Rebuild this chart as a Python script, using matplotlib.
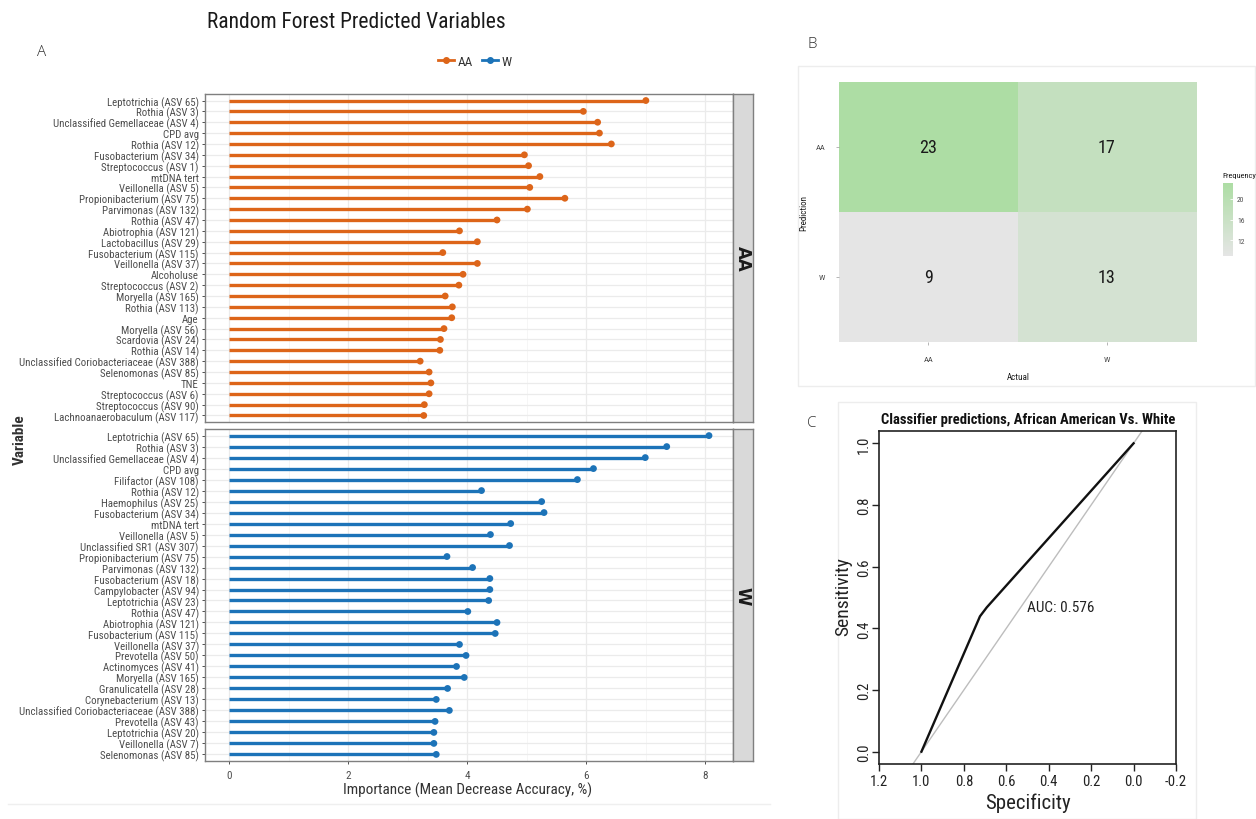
import matplotlib
matplotlib.use("Agg")
import matplotlib.pyplot as plt
from matplotlib import font_manager
from matplotlib.colors import LinearSegmentedColormap, Normalize
from matplotlib.cm import ScalarMappable
from matplotlib.lines import Line2D
import numpy as np

# ---------------------------------------------------------------- data
aa_labels = [
    "Leptotrichia (ASV 65)", "Rothia (ASV 3)", "Unclassified Gemellaceae (ASV 4)",
    "CPD avg", "Rothia (ASV 12)", "Fusobacterium (ASV 34)", "Streptococcus (ASV 1)",
    "mtDNA tert", "Veillonella (ASV 5)", "Propionibacterium (ASV 75)",
    "Parvimonas (ASV 132)", "Rothia (ASV 47)", "Abiotrophia (ASV 121)",
    "Lactobacillus (ASV 29)", "Fusobacterium (ASV 115)", "Veillonella (ASV 37)",
    "Alcoholuse", "Streptococcus (ASV 2)", "Moryella (ASV 165)", "Rothia (ASV 113)",
    "Age", "Moryella (ASV 56)", "Scardovia (ASV 24)", "Rothia (ASV 14)",
    "Unclassified Coriobacteriaceae (ASV 388)", "Selenomonas (ASV 85)", "TNE",
    "Streptococcus (ASV 6)", "Streptococcus (ASV 90)", "Lachnoanaerobaculum (ASV 117)",
]
aa_importance = [
    7.00, 5.95, 6.19, 6.22, 6.42, 4.96, 5.03, 5.22, 5.05, 5.64,
    5.01, 4.50, 3.87, 4.17, 3.59, 4.17, 3.93, 3.86, 3.63, 3.75,
    3.74, 3.61, 3.55, 3.54, 3.21, 3.36, 3.39, 3.36, 3.28, 3.27,
]

w_labels = [
    "Leptotrichia (ASV 65)", "Rothia (ASV 3)", "Unclassified Gemellaceae (ASV 4)",
    "CPD avg", "Filifactor (ASV 108)", "Rothia (ASV 12)", "Haemophilus (ASV 25)",
    "Fusobacterium (ASV 34)", "mtDNA tert", "Veillonella (ASV 5)",
    "Unclassified SR1 (ASV 307)", "Propionibacterium (ASV 75)", "Parvimonas (ASV 132)",
    "Fusobacterium (ASV 18)", "Campylobacter (ASV 94)", "Leptotrichia (ASV 23)",
    "Rothia (ASV 47)", "Abiotrophia (ASV 121)", "Fusobacterium (ASV 115)",
    "Veillonella (ASV 37)", "Prevotella (ASV 50)", "Actinomyces (ASV 41)",
    "Moryella (ASV 165)", "Granulicatella (ASV 28)", "Corynebacterium (ASV 13)",
    "Unclassified Coriobacteriaceae (ASV 388)", "Prevotella (ASV 43)",
    "Leptotrichia (ASV 20)", "Veillonella (ASV 7)", "Selenomonas (ASV 85)",
]
w_importance = [
    8.06, 7.35, 6.99, 6.12, 5.85, 4.24, 5.25, 5.29, 4.73, 4.39,
    4.71, 3.66, 4.09, 4.38, 4.38, 4.36, 4.01, 4.50, 4.47, 3.87,
    3.98, 3.82, 3.95, 3.67, 3.48, 3.70, 3.46, 3.44, 3.44, 3.48,
]

groups = ["AA", "W"]
group_colors = ["#DD6519", "#1C73B8"]

# confusion matrix: rows = prediction, columns = actual
actual_classes = ["AA", "W"]
predicted_classes = ["AA", "W"]
confusion_counts = [[23, 17],
                    [9, 13]]

# ROC curve
roc_specificity = [1.0, 0.724, 0.692, 0.0]
roc_sensitivity = [0.0, 0.439, 0.468, 1.0]
auc_value = 0.576

# ---------------------------------------------------------------- setup
W, H = 1256, 820
plt.rcParams["axes.unicode_minus"] = False


def pick_font(candidates):
    names = {f.name for f in font_manager.fontManager.ttflist}
    for c in candidates:
        if c in names:
            return c
    return "DejaVu Sans"


NARROW = pick_font(["Liberation Sans Narrow", "Roboto Condensed", "Liberation Sans"])
LIGHT = pick_font(["Open Sans", "Lato", "DejaVu Sans"])
plt.rcParams["font.family"] = [NARROW, "DejaVu Sans"]

fig = plt.figure(figsize=(W / 100, H / 100), dpi=100)
fig.patch.set_facecolor("white")


def px_axes(left, top, right, bottom, **kw):
    return fig.add_axes([left / W, 1 - bottom / H, (right - left) / W, (bottom - top) / H], **kw)


def ftext(x, y, s, **kw):
    return fig.text(x / W, 1 - y / H, s, **kw)


def frame(left, top, right, bottom, color="#EDEDED"):
    fig.add_artist(plt.Rectangle((left / W, 1 - bottom / H), (right - left) / W,
                                 (bottom - top) / H, transform=fig.transFigure,
                                 fill=False, edgecolor=color, lw=1.0, zorder=0))


# ---------------------------------------------------------------- panel A
ftext(356, 22, "Random Forest Predicted Variables", fontsize=15.5, ha="center",
      va="center", color="#1A1A1A")
ftext(42, 52, "A", fontsize=11, ha="center", va="center", family=LIGHT,
      color="#333333", fontweight="light")

XMAX = max(max(aa_importance), max(w_importance))
XLIM = (-0.05 * XMAX, 1.05 * XMAX)


def lollipop(ax, labels, values, color, show_x):
    n = len(labels)
    y = np.arange(n, 0, -1)
    ax.set_facecolor("white")
    ax.hlines(y, 0, values, color=color, lw=2.4, zorder=2)
    ax.scatter(values, y, s=24, color=color, zorder=3, edgecolor="none")
    ax.set_xlim(*XLIM)
    ax.set_ylim(0.4, n + 0.6)
    ax.set_yticks(y)
    ax.set_yticklabels(labels, fontsize=7.8, color="#4D4D4D")
    ax.set_xticks([0, 2, 4, 6, 8])
    ax.set_xticks([1, 3, 5, 7], minor=True)
    ax.grid(which="major", color="#EBEBEB", lw=0.9, zorder=0)
    ax.grid(which="minor", axis="x", color="#F3F3F3", lw=0.5, zorder=0)
    ax.set_axisbelow(True)
    ax.tick_params(axis="y", length=2.5, width=0.6, color="#333333", pad=2)
    ax.tick_params(axis="x", which="both", length=2.5 if show_x else 0,
                   width=0.6, color="#333333", labelsize=8, labelcolor="#4D4D4D",
                   labelbottom=show_x, pad=4)
    ax.tick_params(axis="x", which="minor", length=0)
    for s in ax.spines.values():
        s.set_color("#7F7F7F")
        s.set_linewidth(1.0)


def strip(top, bottom, label):
    sax = px_axes(733, top, 753, bottom)
    sax.set_facecolor("#D9D9D9")
    sax.set_xticks([])
    sax.set_yticks([])
    for s in sax.spines.values():
        s.set_color("#7F7F7F")
        s.set_linewidth(1.0)
    sax.text(0.5, 0.5, label, rotation=-90, ha="center", va="center",
             fontsize=12, fontweight="bold", color="#1A1A1A", family="DejaVu Sans",
             transform=sax.transAxes)


ax_aa = px_axes(205, 95, 733, 423)
lollipop(ax_aa, aa_labels, aa_importance, group_colors[0], show_x=False)
strip(95, 423, groups[0])

ax_w = px_axes(205, 430, 733, 762)
lollipop(ax_w, w_labels, w_importance, group_colors[1], show_x=True)
strip(430, 762, groups[1])

ftext(468, 790, "Importance (Mean Decrease Accuracy, %)", fontsize=11,
      ha="center", va="center", color="#333333")
ftext(20, 440, "Variable", fontsize=11, rotation=90, ha="center", va="center",
      color="#333333", fontweight="bold")

handles = [Line2D([0], [0], color=c, lw=2, marker="o", markersize=4) for c in group_colors]
fig.legend(handles, groups, loc="center", bbox_to_anchor=(475 / W, 1 - 62 / H),
           ncol=2, frameon=False, fontsize=9.5, handlelength=1.2, handletextpad=0.3,
           columnspacing=0.7, labelcolor="#333333")

fig.add_artist(Line2D([8 / W, 770 / W], [1 - 805 / H, 1 - 805 / H],
                      transform=fig.transFigure, color="#EFEFEF", lw=1))

# ---------------------------------------------------------------- panel B
ftext(812, 45, "B", fontsize=11, ha="center", va="center", family=LIGHT,
      color="#333333", fontweight="light")
frame(798, 67, 1255, 387)

cmap = LinearSegmentedColormap.from_list("freq", ["#E5E5E5", "#ADDDA4"])
norm = Normalize(vmin=9, vmax=23)
counts = np.array(confusion_counts)

ax_cm = px_axes(839, 83, 1196, 343)
ax_cm.imshow(counts, cmap=cmap, norm=norm, aspect="auto")
for i in range(counts.shape[0]):
    for j in range(counts.shape[1]):
        ax_cm.text(j, i, str(counts[i, j]), ha="center", va="center",
                   fontsize=13, color="#1A1A1A")
ax_cm.set_xticks(range(len(actual_classes)))
ax_cm.set_xticklabels(actual_classes)
ax_cm.set_yticks(range(len(predicted_classes)))
ax_cm.set_yticklabels(predicted_classes)
ax_cm.tick_params(length=2, width=0.5, color="#999999", labelsize=6,
                  labelcolor="#4D4D4D", pad=8)
for s in ax_cm.spines.values():
    s.set_visible(False)
ftext(1018, 378, "Actual", fontsize=6.5, ha="center", va="center", color="#1A1A1A")
ftext(804, 213, "Prediction", fontsize=6.5, rotation=90, ha="center", va="center",
      color="#1A1A1A")

cax = px_axes(1223, 184, 1233, 257)
cb = fig.colorbar(ScalarMappable(norm=norm, cmap=cmap), cax=cax)
cb.outline.set_visible(False)
cb.set_ticks([12, 16, 20])
cb.ax.tick_params(labelsize=5.5, length=2.5, width=0.6, color="white",
                  labelcolor="#4D4D4D", direction="in", pad=3)
ftext(1222, 176, "Frequency", fontsize=6, ha="left", va="center", color="#1A1A1A")

# ---------------------------------------------------------------- panel C
ftext(812, 424, "C", fontsize=11, ha="center", va="center", family=LIGHT,
      color="#333333", fontweight="light")
frame(838, 403, 1196, 820)

ax_roc = px_axes(879, 432, 1176, 765)
ax_roc.axline((1.0, 0.0), (0.0, 1.0), color="#BDBDBD", lw=1.0, zorder=1)
ax_roc.plot(roc_specificity, roc_sensitivity, color="#111111", lw=1.7, zorder=2)
ax_roc.set_xlim(1.2, -0.2)
ax_roc.set_ylim(-0.04, 1.04)
xt = [1.2, 1.0, 0.8, 0.6, 0.4, 0.2, 0.0, -0.2]
ax_roc.set_xticks(xt)
ax_roc.set_xticklabels([f"{v:.1f}" for v in xt])
yt = [0.0, 0.2, 0.4, 0.6, 0.8, 1.0]
ax_roc.set_yticks(yt)
ax_roc.set_yticklabels([f"{v:.1f}" for v in yt], rotation=90, va="center")
ax_roc.tick_params(length=5, width=1.0, color="#222222", labelsize=10.5,
                   labelcolor="#222222", pad=2)
ax_roc.tick_params(axis="y", pad=1)
for s in ax_roc.spines.values():
    s.set_color("#222222")
    s.set_linewidth(1.2)
ax_roc.text(0.50, 0.47, f"AUC: {auc_value:.3f}", ha="left", va="center",
            fontsize=11, color="#222222")
ftext(1028, 420, "Classifier predictions, African American Vs. White", fontsize=10.5,
      fontweight="bold", ha="center", va="center", color="#111111")
ftext(1028, 803, "Specificity", fontsize=15, ha="center", va="center", color="#222222")
ftext(843, 597, "Sensitivity", fontsize=14, rotation=90, ha="center", va="center",
      color="#222222")

fig.savefig("out.png", dpi=100, facecolor="white")
